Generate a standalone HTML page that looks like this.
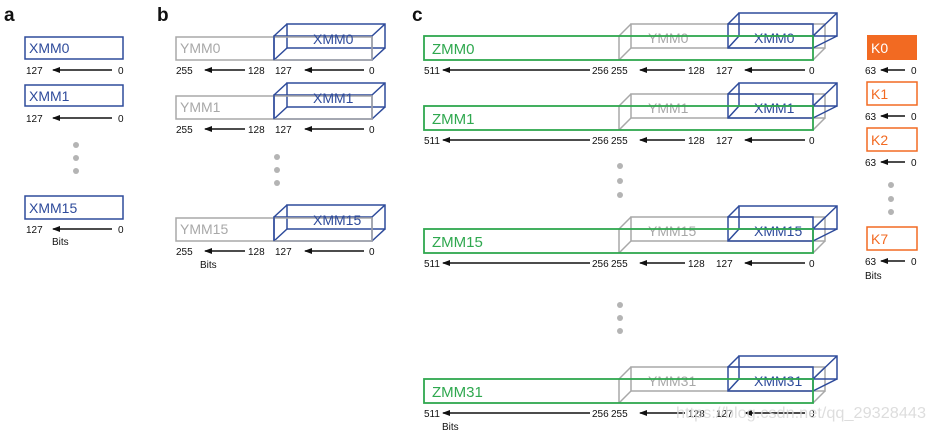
<!DOCTYPE html>
<html><head><meta charset="utf-8"><style>
html,body{margin:0;padding:0;background:#fff;}
svg{display:block;font-family:"Liberation Sans",Arial,sans-serif;}
.l{font-size:10px;fill:#111;}
.bl{fill:none;stroke:#2e4b9b;stroke-width:1.5;}
.gr{fill:none;stroke:#a8a8a8;stroke-width:1.5;}
.gn{fill:none;stroke:#2fa84f;stroke-width:1.8;}
.or{fill:none;stroke:#f26a22;stroke-width:1.5;}
.ar{stroke:#111;stroke-width:1.5;}
.d{fill:#b4b4b4;}
</style></head><body>
<svg width="928" height="435" viewBox="0 0 928 435">
<defs>
<marker id="m" markerWidth="8" markerHeight="6" refX="1" refY="3" orient="auto" markerUnits="userSpaceOnUse">
<path d="M8,0 L0,3 L8,6 Z" fill="#111"/></marker>
</defs>
<g font-weight="bold" font-size="19" fill="#111">
<text x="4" y="21">a</text><text x="157" y="21">b</text><text x="412" y="21">c</text>
</g>

<!-- Panel a -->
<g>
<rect x="25" y="37" width="98" height="22" class="bl"/>
<text x="29" y="53" font-size="14" fill="#2e4b9b">XMM0</text>
<text x="26" y="74" class="l">127</text><line x1="53" y1="70" x2="112" y2="70" class="ar" marker-start="url(#m)"/><text x="118" y="74" class="l">0</text>
<rect x="25" y="85" width="98" height="21" class="bl"/>
<text x="29" y="101" font-size="14" fill="#2e4b9b">XMM1</text>
<text x="26" y="122" class="l">127</text><line x1="53" y1="118" x2="112" y2="118" class="ar" marker-start="url(#m)"/><text x="118" y="122" class="l">0</text>
<circle cx="76" cy="145" r="3" class="d"/><circle cx="76" cy="158" r="3" class="d"/><circle cx="76" cy="171" r="3" class="d"/>
<rect x="25" y="196" width="98" height="23" class="bl"/>
<text x="29" y="213" font-size="14" fill="#2e4b9b">XMM15</text>
<text x="26" y="233" class="l">127</text><line x1="53" y1="229" x2="112" y2="229" class="ar" marker-start="url(#m)"/><text x="118" y="233" class="l">0</text>
<text x="52" y="245" class="l" font-size="9">Bits</text>
</g>

<!-- Panel b -->
<g>
<rect x="274" y="36" width="98" height="24" class="bl"/>
<rect x="287" y="24" width="98" height="24" class="bl"/>
<path d="M274,36 L287,24 M274,60 L287,48 M372,36 L385,24 M372,60 L385,48" class="bl"/>
<rect x="176" y="37" width="196" height="23" class="gr"/>
<line x1="274" y1="36" x2="274" y2="60" class="bl"/>
<text x="180" y="53" font-size="14" fill="#a8a8a8">YMM0</text>
<text x="313" y="44" font-size="14" fill="#2e4b9b">XMM0</text>
<text x="176" y="74" class="l">255</text><line x1="205" y1="70" x2="245" y2="70" class="ar" marker-start="url(#m)"/><text x="248" y="74" class="l">128</text>
<text x="275" y="74" class="l">127</text><line x1="305" y1="70" x2="364" y2="70" class="ar" marker-start="url(#m)"/><text x="369" y="74" class="l">0</text>
</g>
<g transform="translate(0,59)">
<rect x="274" y="36" width="98" height="24" class="bl"/>
<rect x="287" y="24" width="98" height="24" class="bl"/>
<path d="M274,36 L287,24 M274,60 L287,48 M372,36 L385,24 M372,60 L385,48" class="bl"/>
<rect x="176" y="37" width="196" height="23" class="gr"/>
<line x1="274" y1="36" x2="274" y2="60" class="bl"/>
<text x="180" y="53" font-size="14" fill="#a8a8a8">YMM1</text>
<text x="313" y="44" font-size="14" fill="#2e4b9b">XMM1</text>
<text x="176" y="74" class="l">255</text><line x1="205" y1="70" x2="245" y2="70" class="ar" marker-start="url(#m)"/><text x="248" y="74" class="l">128</text>
<text x="275" y="74" class="l">127</text><line x1="305" y1="70" x2="364" y2="70" class="ar" marker-start="url(#m)"/><text x="369" y="74" class="l">0</text>
</g>
<circle cx="277" cy="157" r="3" class="d"/><circle cx="277" cy="170" r="3" class="d"/><circle cx="277" cy="183" r="3" class="d"/>
<g transform="translate(0,181)">
<rect x="274" y="36" width="98" height="24" class="bl"/>
<rect x="287" y="24" width="98" height="24" class="bl"/>
<path d="M274,36 L287,24 M274,60 L287,48 M372,36 L385,24 M372,60 L385,48" class="bl"/>
<rect x="176" y="37" width="196" height="23" class="gr"/>
<line x1="274" y1="36" x2="274" y2="60" class="bl"/>
<text x="180" y="53" font-size="14" fill="#a8a8a8">YMM15</text>
<text x="313" y="44" font-size="14" fill="#2e4b9b">XMM15</text>
<text x="176" y="74" class="l">255</text><line x1="205" y1="70" x2="245" y2="70" class="ar" marker-start="url(#m)"/><text x="248" y="74" class="l">128</text>
<text x="275" y="74" class="l">127</text><line x1="305" y1="70" x2="364" y2="70" class="ar" marker-start="url(#m)"/><text x="369" y="74" class="l">0</text>
<text x="200" y="87" class="l" font-size="9">Bits</text>
</g>

<!-- Panel c rows -->
<g>
<path d="M619,36 L619,60 M619,36 L631,24 M619,60 L631,48 M813,36 L825,24 M813,60 L825,48" class="gr"/>
<rect x="631" y="24" width="194" height="24" class="gr"/>
<rect x="728" y="24" width="85" height="24" class="bl"/>
<rect x="739" y="13" width="98" height="23" class="bl"/>
<path d="M728,24 L739,13 M728,48 L739,36 M813,36 L837,13 M813,48 L837,36" class="bl"/>
<text x="648" y="43" font-size="14" fill="#a8a8a8">YMM0</text>
<text x="754" y="43" font-size="14" fill="#2e4b9b">XMM0</text>
<rect x="424" y="36" width="389" height="24" class="gn"/>
<text x="432" y="54" font-size="15" fill="#2fa84f">ZMM0</text>
<text x="424" y="74" class="l">511</text><line x1="443" y1="70" x2="590" y2="70" class="ar" marker-start="url(#m)"/><text x="592" y="74" class="l">256</text>
<text x="611" y="74" class="l">255</text><line x1="640" y1="70" x2="685" y2="70" class="ar" marker-start="url(#m)"/><text x="688" y="74" class="l">128</text>
<text x="716" y="74" class="l">127</text><line x1="745" y1="70" x2="805" y2="70" class="ar" marker-start="url(#m)"/><text x="809" y="74" class="l">0</text>
</g>
<g transform="translate(0,70)">
<path d="M619,36 L619,60 M619,36 L631,24 M619,60 L631,48 M813,36 L825,24 M813,60 L825,48" class="gr"/>
<rect x="631" y="24" width="194" height="24" class="gr"/>
<rect x="728" y="24" width="85" height="24" class="bl"/>
<rect x="739" y="13" width="98" height="23" class="bl"/>
<path d="M728,24 L739,13 M728,48 L739,36 M813,36 L837,13 M813,48 L837,36" class="bl"/>
<text x="648" y="43" font-size="14" fill="#a8a8a8">YMM1</text>
<text x="754" y="43" font-size="14" fill="#2e4b9b">XMM1</text>
<rect x="424" y="36" width="389" height="24" class="gn"/>
<text x="432" y="54" font-size="15" fill="#2fa84f">ZMM1</text>
<text x="424" y="74" class="l">511</text><line x1="443" y1="70" x2="590" y2="70" class="ar" marker-start="url(#m)"/><text x="592" y="74" class="l">256</text>
<text x="611" y="74" class="l">255</text><line x1="640" y1="70" x2="685" y2="70" class="ar" marker-start="url(#m)"/><text x="688" y="74" class="l">128</text>
<text x="716" y="74" class="l">127</text><line x1="745" y1="70" x2="805" y2="70" class="ar" marker-start="url(#m)"/><text x="809" y="74" class="l">0</text>
</g>
<circle cx="620" cy="166" r="3" class="d"/><circle cx="620" cy="181" r="3" class="d"/><circle cx="620" cy="195" r="3" class="d"/>
<g transform="translate(0,193)">
<path d="M619,36 L619,60 M619,36 L631,24 M619,60 L631,48 M813,36 L825,24 M813,60 L825,48" class="gr"/>
<rect x="631" y="24" width="194" height="24" class="gr"/>
<rect x="728" y="24" width="85" height="24" class="bl"/>
<rect x="739" y="13" width="98" height="23" class="bl"/>
<path d="M728,24 L739,13 M728,48 L739,36 M813,36 L837,13 M813,48 L837,36" class="bl"/>
<text x="648" y="43" font-size="14" fill="#a8a8a8">YMM15</text>
<text x="754" y="43" font-size="14" fill="#2e4b9b">XMM15</text>
<rect x="424" y="36" width="389" height="24" class="gn"/>
<text x="432" y="54" font-size="15" fill="#2fa84f">ZMM15</text>
<text x="424" y="74" class="l">511</text><line x1="443" y1="70" x2="590" y2="70" class="ar" marker-start="url(#m)"/><text x="592" y="74" class="l">256</text>
<text x="611" y="74" class="l">255</text><line x1="640" y1="70" x2="685" y2="70" class="ar" marker-start="url(#m)"/><text x="688" y="74" class="l">128</text>
<text x="716" y="74" class="l">127</text><line x1="745" y1="70" x2="805" y2="70" class="ar" marker-start="url(#m)"/><text x="809" y="74" class="l">0</text>
</g>
<circle cx="620" cy="305" r="3" class="d"/><circle cx="620" cy="318" r="3" class="d"/><circle cx="620" cy="331" r="3" class="d"/>
<g transform="translate(0,343)">
<path d="M619,36 L619,60 M619,36 L631,24 M619,60 L631,48 M813,36 L825,24 M813,60 L825,48" class="gr"/>
<rect x="631" y="24" width="194" height="24" class="gr"/>
<rect x="728" y="24" width="85" height="24" class="bl"/>
<rect x="739" y="13" width="98" height="23" class="bl"/>
<path d="M728,24 L739,13 M728,48 L739,36 M813,36 L837,13 M813,48 L837,36" class="bl"/>
<text x="648" y="43" font-size="14" fill="#a8a8a8">YMM31</text>
<text x="754" y="43" font-size="14" fill="#2e4b9b">XMM31</text>
<rect x="424" y="36" width="389" height="24" class="gn"/>
<text x="432" y="54" font-size="15" fill="#2fa84f">ZMM31</text>
<text x="424" y="74" class="l">511</text><line x1="443" y1="70" x2="590" y2="70" class="ar" marker-start="url(#m)"/><text x="592" y="74" class="l">256</text>
<text x="611" y="74" class="l">255</text><line x1="640" y1="70" x2="685" y2="70" class="ar" marker-start="url(#m)"/><text x="688" y="74" class="l">128</text>
<text x="716" y="74" class="l">127</text><line x1="745" y1="70" x2="805" y2="70" class="ar" marker-start="url(#m)"/><text x="809" y="74" class="l">0</text>
<text x="442" y="87" class="l" font-size="9">Bits</text>
</g>
<text x="676" y="418" font-size="16" textLength="250" lengthAdjust="spacingAndGlyphs" fill="#d8d8d8" opacity="0.85">https://blog.csdn.net/qq_29328443</text>

<!-- K registers -->
<rect x="867" y="35" width="50" height="25" fill="#f26a22"/>
<text x="871" y="53" font-size="14" fill="#fff">K0</text>
<text x="865" y="74" class="l">63</text><line x1="881" y1="70" x2="905" y2="70" class="ar" marker-start="url(#m)"/><text x="911" y="74" class="l">0</text>
<rect x="867" y="82" width="50" height="23" class="or"/>
<text x="871" y="99" font-size="14" fill="#f26a22">K1</text>
<text x="865" y="120" class="l">63</text><line x1="881" y1="116" x2="905" y2="116" class="ar" marker-start="url(#m)"/><text x="911" y="120" class="l">0</text>
<rect x="867" y="128" width="50" height="23" class="or"/>
<text x="871" y="145" font-size="14" fill="#f26a22">K2</text>
<text x="865" y="166" class="l">63</text><line x1="881" y1="162" x2="905" y2="162" class="ar" marker-start="url(#m)"/><text x="911" y="166" class="l">0</text>
<circle cx="891" cy="185" r="3" class="d"/><circle cx="891" cy="199" r="3" class="d"/><circle cx="891" cy="212" r="3" class="d"/>
<rect x="867" y="227" width="50" height="23" class="or"/>
<text x="871" y="244" font-size="14" fill="#f26a22">K7</text>
<text x="865" y="265" class="l">63</text><line x1="881" y1="261" x2="905" y2="261" class="ar" marker-start="url(#m)"/><text x="911" y="265" class="l">0</text>
<text x="865" y="279" class="l" font-size="9">Bits</text>
</svg>
</body></html>
